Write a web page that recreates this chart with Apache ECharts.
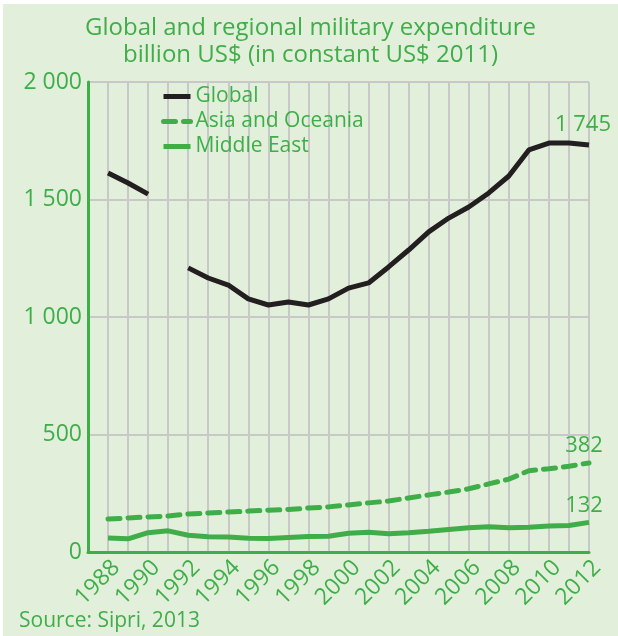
<!DOCTYPE html>
<html>
<head>
<meta charset="utf-8">
<script src="https://cdn.jsdelivr.net/npm/echarts@6/dist/echarts.min.js"></script>
<style>
html,body{margin:0;padding:0;background:#ffffff;}
#chart{position:absolute;left:3px;top:4px;width:615px;height:632px;}
</style>
</head>
<body>
<div id="chart"></div>
<script>
var years = [1988,1989,1990,1991,1992,1993,1994,1995,1996,1997,1998,1999,2000,2001,2002,2003,2004,2005,2006,2007,2008,2009,2010,2011,2012];
var globalSpend = [1613,1570,1523,null,1209,1166,1136,1077,1051,1064,1051,1077,1123,1145,1213,1285,1362,1421,1468,1528,1600,1711,1740,1740,1732];
var asiaOceania = [140,145,149,153,162,166,170,174,178,181,187,192,200,209,217,230,243,255,269,290,310,346,354,365,379];
var middleEast = [60,56,82,90,71,65,64,59,57,62,66,67,80,84,78,82,88,96,103,107,103,105,111,113,126];
var seriesNames = ['Global','Asia and Oceania','Middle East'];
var endLabels = ['1 745','382','132'];
var yTickLabels = {0:'0',500:'500',1000:'1 000',1500:'1 500',2000:'2 000'};
var titleText = 'Global and regional military expenditure\nbillion US$ (in constant US$ 2011)';
var sourceText = 'Source: Sipri, 2013';

var GREEN = '#3fae49';
var FONT = 'Open Sans';

function pairs(vals){
  return years.map(function(y,i){ return [y, vals[i]]; });
}
function endMark(vals, label, offset){
  var i = years.length-1;
  return {silent:true, symbol:'circle', symbolSize:0,
    label:{show:true, position:'top', offset:offset, formatter:label,
      color:GREEN, fontSize:22, fontFamily:FONT},
    data:[{coord:[years[i], vals[i]]}]};
}

var chart = echarts.init(document.getElementById('chart'), null, {renderer:'canvas'});
chart.setOption({
  backgroundColor:'#e1efdb',
  animation:false,
  title:{text:titleText, left:'center', top:6,
    textStyle:{color:GREEN, fontSize:24, fontWeight:'normal', fontFamily:FONT, lineHeight:27}},
  graphic:[{type:'text', left:16, top:607, style:{text:sourceText, fill:GREEN, fontSize:21, fontFamily:FONT}}],
  legend:{orient:'vertical', left:153, top:77, itemWidth:27, itemHeight:12, itemGap:4,
    itemStyle:{opacity:0},
    lineStyle:{width:5},
    textStyle:{color:GREEN, fontSize:21, fontFamily:FONT},
    data:seriesNames},
  grid:{left:85, right:29, top:78, bottom:84},
  xAxis:{type:'value', min:1987, max:2012, interval:1,
    axisLine:{show:true, onZero:false, lineStyle:{color:GREEN, width:3}},
    axisTick:{show:false},
    splitLine:{show:true, lineStyle:{color:'#c8c8c8', width:2}},
    axisLabel:{rotate:45, margin:4, verticalAlign:'top', color:GREEN, fontSize:23, fontFamily:FONT,
      formatter:function(v){ return (v>=1988 && v%2===0) ? String(v) : ''; }}},
  yAxis:{type:'value', min:0, max:2000, interval:500,
    axisLine:{show:true, lineStyle:{color:GREEN, width:3}},
    axisTick:{show:false},
    splitLine:{show:true, lineStyle:{color:'#c8c8c8', width:2}},
    axisLabel:{color:GREEN, fontSize:23, fontFamily:FONT, margin:6,
      formatter:function(v){ return yTickLabels[v]; }}},
  series:[
    {name:seriesNames[0], type:'line', symbol:'none', connectNulls:false,
      lineStyle:{color:'#231f20', width:5}, itemStyle:{color:'#231f20'},
      data:pairs(globalSpend), markPoint:endMark(globalSpend, endLabels[0], [-6,-4]), z:5},
    {name:seriesNames[1], type:'line', symbol:'none',
      lineStyle:{color:GREEN, width:5, type:[12,8], cap:'round'}, itemStyle:{color:GREEN},
      data:pairs(asiaOceania), markPoint:endMark(asiaOceania, endLabels[1], [-5,-1]), z:4},
    {name:seriesNames[2], type:'line', symbol:'none',
      lineStyle:{color:GREEN, width:5}, itemStyle:{color:GREEN},
      data:pairs(middleEast), markPoint:endMark(middleEast, endLabels[2], [-5,-1]), z:4}
  ]
});
</script>
</body>
</html>
